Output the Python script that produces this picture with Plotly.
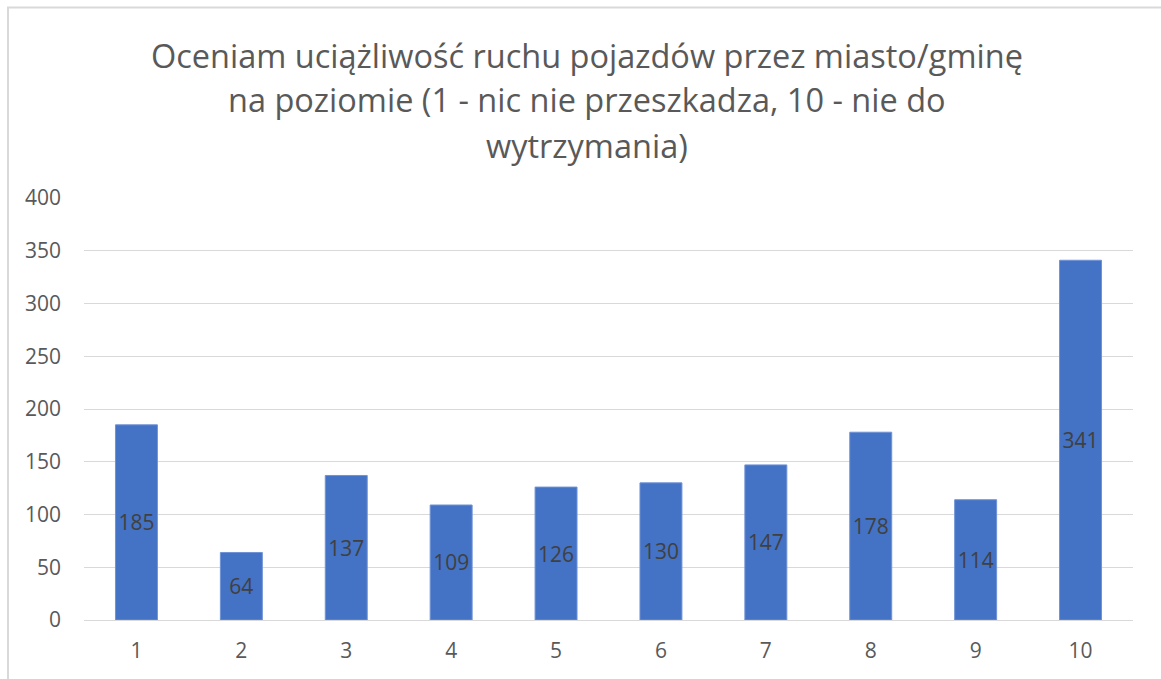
import plotly.graph_objects as go

categories = ["1", "2", "3", "4", "5", "6", "7", "8", "9", "10"]
values = [185, 64, 137, 109, 126, 130, 147, 178, 114, 341]
title_lines = ["Oceniam uciążliwość ruchu pojazdów przez miasto/gminę",
               "na poziomie (1 - nic nie przeszkadza, 10 - nie do",
               "wytrzymania)"]

W, H = 1161, 679
L, T = 84, 198
R = W - 1133
B = H - 620
pw, ph = W - L - R, H - T - B


def px(page_x):
    return (page_x - L) / pw


def py(page_y):
    return (H - B - page_y) / ph


fig = go.Figure(go.Bar(
    x=categories, y=values, marker_color="#4472C4",
    marker_line=dict(color="#6F93D6", width=1),
    text=[str(v) for v in values], textposition="inside",
    insidetextanchor="middle", textangle=0,
    textfont=dict(size=21, color="#404040", family="Open Sans"),
    hoverinfo="skip",
))

fig.update_layout(
    width=W, height=H,
    margin=dict(l=L, r=R, t=T, b=B, pad=0),
    paper_bgcolor="white", plot_bgcolor="white",
    bargap=0.6, showlegend=False,
    font=dict(family="Open Sans", color="#595959"),
    xaxis=dict(type="category", showgrid=False, showline=True,
               linecolor="#D9D9D9", linewidth=1, ticks="",
               tickfont=dict(size=21, color="#595959"), ticklabelstandoff=12),
    yaxis=dict(range=[0, 400], dtick=50, showgrid=True, gridcolor="#D9D9D9",
               gridwidth=1, zeroline=False, showline=False,
               tickfont=dict(size=21, color="#595959"), ticklabelstandoff=22),
)

for line, yc in zip(title_lines, [55, 100, 145]):
    fig.add_annotation(text=line, xref="paper", yref="paper", x=px(587), y=py(yc),
                       xanchor="center", yanchor="middle", showarrow=False,
                       font=dict(size=32.5, color="#595959", family="Open Sans"))

# chart border (Excel chart area outline)
fig.add_shape(type="rect", xref="paper", yref="paper",
              x0=px(8), x1=px(1175), y0=py(700), y1=py(7.5),
              line=dict(color="#D9D9D9", width=2), fillcolor="rgba(0,0,0,0)", layer="below")

fig.write_html("out.html", config={"displayModeBar": False},
               post_script="document.body.style.margin='0';document.body.style.overflow='hidden';")
